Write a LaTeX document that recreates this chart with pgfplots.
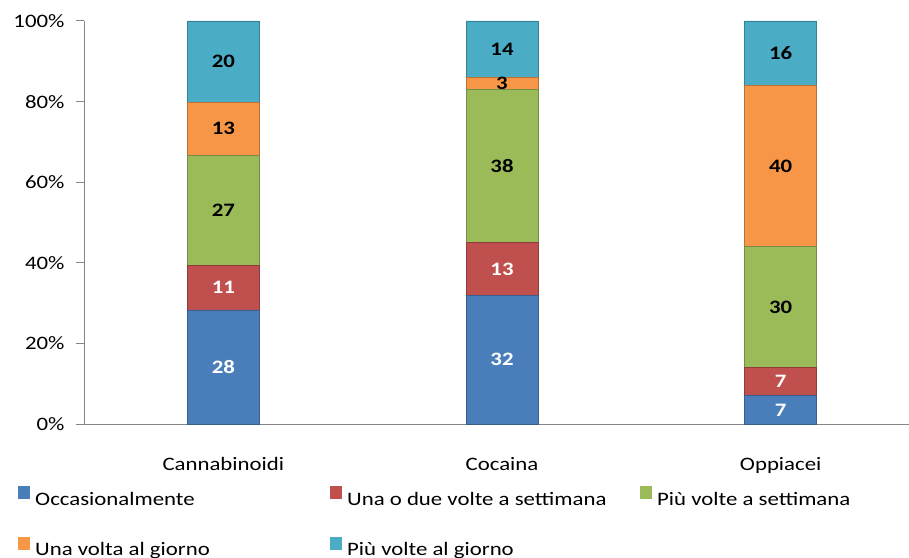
\documentclass[border=0pt]{standalone}
\usepackage{pgfplots}
\pgfplotsset{compat=1.18}
\usepackage{pgfplotstable}
\usepackage{fontspec}
\setmainfont{Carlito}[FakeStretch=1.2]
\definecolor{cblue}{HTML}{4A7EBB}
\definecolor{cred}{HTML}{C0504D}
\definecolor{cgreen}{HTML}{9BBB59}
\definecolor{corange}{HTML}{F79646}
\definecolor{ccyan}{HTML}{4BACC6}
\definecolor{axgray}{HTML}{868686}
\pgfplotstableread{
x occ una piu volta piug occL unaL piuL voltaL piugL
0 28.3 11.1 27.3 13.1 20.2 28 11 27 13 20
1 32 13 38 3 14 32 13 38 3 14
2 7 7 30 40 16 7 7 30 40 16
}\data
\newcommand{\lf}{\fontsize{19}{23}\selectfont}
\pgfplotsset{
  mylegend/.style={legend image code/.code={\fill[##1,draw=none] (0pt,0pt) rectangle (12pt,13pt);}},
  seg/.style={fill=#1, draw=#1!75!black, line width=0.6pt, mylegend,
    point meta=explicit symbolic,
    nodes near coords,
    every node near coord/.append style={anchor=center, font=\bfseries\lf}},
}
\begin{document}
\begin{tikzpicture}[x=1pt,y=1pt]
\useasboundingbox (0,0) rectangle (909,557);
\begin{axis}[
  at={(84pt,133pt)}, anchor=south west,
  scale only axis, width=836pt, height=403pt,
  xmin=-0.5, xmax=2.5, ymin=0, ymax=100,
  ybar stacked, bar width=72pt,
  axis x line*=bottom, axis y line*=left,
  axis line style={axgray, line width=1pt},
  xtick={0,1,2}, xticklabels={Cannabinoidi,Cocaina,Oppiacei},
  x tick style={draw=none},
  minor xtick={-0.5,0.5,1.5,2.5},
  minor x tick style={axgray, line width=1pt},
  minor tick length=7pt,
  ytick={0,20,40,60,80,100},
  yticklabels={0\%,20\%,40\%,60\%,80\%,100\%},
  y tick style={axgray, line width=1pt},
  major tick length=8pt,
  tick align=outside,
  tick label style={font=\lf, text=black},
  yticklabel style={xshift=-8pt},
  xticklabel style={yshift=-22pt},
  legend columns=3,
  legend cell align=left,
  legend style={draw=none, fill=none, inner sep=0pt, anchor=west,
    at={(axis description cs:-0.079,-0.242)},
    font=\lf, row sep=30pt,
    nodes={inner sep=0pt},
    /tikz/every odd column/.style={column sep=5pt}},
]
\addplot[seg=cblue, every node near coord/.append style={text=white}] table[x=x,y=occ,meta=occL] {\data};
\addplot[seg=cred, every node near coord/.append style={text=white}] table[x=x,y=una,meta=unaL] {\data};
\addplot[seg=cgreen] table[x=x,y=piu,meta=piuL] {\data};
\addplot[seg=corange] table[x=x,y=volta,meta=voltaL] {\data};
\addplot[seg=ccyan] table[x=x,y=piug,meta=piugL] {\data};
\legend{\makebox[295pt][l]{Occasionalmente},\makebox[293pt][l]{Una o due volte a settimana},Più volte a settimana,\makebox[295pt][l]{Una volta al giorno},\makebox[293pt][l]{Più volte al giorno}}
\end{axis}
\end{tikzpicture}
\end{document}
